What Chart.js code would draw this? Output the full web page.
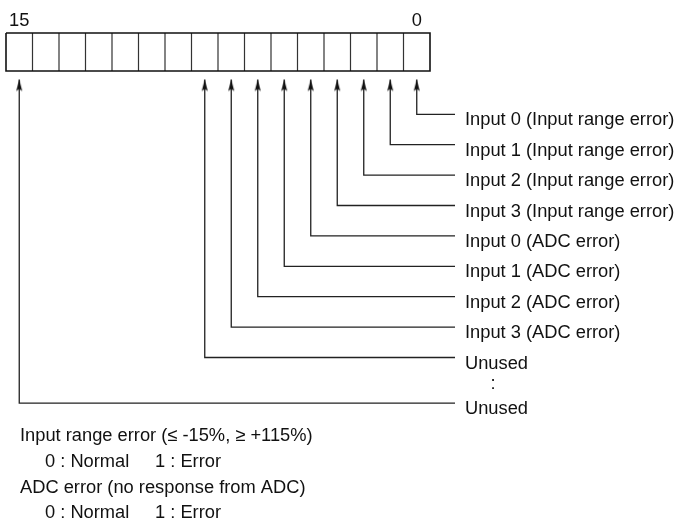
<!DOCTYPE html>
<html>
<head>
<meta charset="utf-8">
<script src="https://cdn.jsdelivr.net/npm/chart.js@4.4.1/dist/chart.umd.min.js"></script>
<style>
  html, body { margin: 0; padding: 0; background: #fff; }
  #wrap { width: 678px; height: 520px; position: relative; }
</style>
</head>
<body>
<div id="wrap"><canvas id="c"></canvas></div>
<script>
// ---------------- data ----------------
const bitCount = 16;
const headerBits = [15, 0];
const headerLabels = ['15', '0'];
const leaderBits = [0, 1, 2, 3, 4, 5, 6, 7, 8, 15];
const leaderRows = [0, 1, 2, 3, 4, 5, 6, 7, 8, 9.5];
const leaderLabels = [
  'Input 0 (Input range error)',
  'Input 1 (Input range error)',
  'Input 2 (Input range error)',
  'Input 3 (Input range error)',
  'Input 0 (ADC error)',
  'Input 1 (ADC error)',
  'Input 2 (ADC error)',
  'Input 3 (ADC error)',
  'Unused',
  'Unused'
];
const ellipsisLabel = ':';
const noteLines = [
  ['Input range error (\u2264 -15%, \u2265 +115%)'],
  ['0 : Normal', '1 : Error'],
  ['ADC error (no response from ADC)'],
  ['0 : Normal', '1 : Error']
];

// ---------------- layout (styling, not data) ----------------
const W = 678, H = 520;
const CELL_PX = 26.5, BOX_LEFT_PX = 6;
const ROW0_PX = 114.3, ROW_PX = 30.4;
const pxToCol = p => (p - BOX_LEFT_PX) / CELL_PX;
const pxToRow = p => (p - ROW0_PX) / ROW_PX;
const BOX_TOP = pxToRow(33), BOX_BOTTOM = pxToRow(71), ARROW_TIP = pxToRow(79.5);
const LINE_END = pxToCol(455), LABEL_X = pxToCol(465);
const HEADER_BASE = pxToRow(26);
const ELLIPSIS_X = pxToCol(493), ELLIPSIS_BASE = pxToRow(389);
const NOTE_X = [[pxToCol(20)], [pxToCol(45), pxToCol(155)], [pxToCol(20)], [pxToCol(45), pxToCol(155)]];
const NOTE_BASE = [441, 466.7, 493.3, 518.3].map(pxToRow);
const LABEL_BASE_OFFSET_PX = 11;
const FONT = '18.3px "Liberation Sans", Arial, Helvetica, sans-serif';
const INK = '#111';

const colCenter = b => (bitCount - 1 - b) + 0.5;

// arrowhead image (tip at image centre)
const arrow = document.createElement('canvas');
arrow.width = 8; arrow.height = 24;
(function () {
  const g = arrow.getContext('2d');
  g.fillStyle = INK;
  g.beginPath();
  g.moveTo(4, 12);
  g.lineTo(7, 23.5);
  g.lineTo(4, 21.5);
  g.lineTo(1, 23.5);
  g.closePath();
  g.fill();
})();

// ---------------- datasets ----------------
const boxOutline = [
  { x: 0, y: BOX_TOP }, { x: bitCount, y: BOX_TOP },
  { x: bitCount, y: BOX_BOTTOM }, { x: 0, y: BOX_BOTTOM }, { x: 0, y: BOX_TOP }
];
const dividers = [];
for (let i = 1; i < bitCount; i++) {
  dividers.push({ x: i, y: BOX_TOP }, { x: i, y: BOX_BOTTOM }, { x: i, y: null });
}

const datasets = [
  { data: boxOutline, borderColor: INK, borderWidth: 1.6, pointRadius: 0 },
  { data: dividers, borderColor: '#333', borderWidth: 1.2, pointRadius: 0, spanGaps: false }
];
leaderBits.forEach((b, i) => {
  const cx = colCenter(b);
  datasets.push({
    data: [
      { x: cx, y: ARROW_TIP },
      { x: cx, y: leaderRows[i] },
      { x: LINE_END, y: leaderRows[i] }
    ],
    borderColor: '#222',
    borderWidth: 1.3,
    pointStyle: ctx => ctx.dataIndex === 0 ? arrow : 'circle',
    pointRadius: ctx => ctx.dataIndex === 0 ? 5 : 0,
    pointBorderWidth: 0
  });
});

// ---------------- text plugin ----------------
const textPlugin = {
  id: 'diagramText',
  afterDatasetsDraw(chart) {
    const { ctx, scales: { x, y } } = chart;
    ctx.save();
    ctx.font = FONT;
    ctx.fillStyle = INK;
    ctx.textBaseline = 'alphabetic';
    ctx.textAlign = 'center';
    headerBits.forEach((b, i) => {
      ctx.fillText(headerLabels[i], x.getPixelForValue(colCenter(b)), y.getPixelForValue(HEADER_BASE));
    });
    ctx.textAlign = 'left';
    leaderLabels.forEach((t, i) => {
      ctx.fillText(t, x.getPixelForValue(LABEL_X), y.getPixelForValue(leaderRows[i]) + LABEL_BASE_OFFSET_PX);
    });
    ctx.textAlign = 'center';
    ctx.fillText(ellipsisLabel, x.getPixelForValue(ELLIPSIS_X), y.getPixelForValue(ELLIPSIS_BASE));
    ctx.textAlign = 'left';
    noteLines.forEach((parts, r) => {
      parts.forEach((t, k) => {
        ctx.fillText(t, x.getPixelForValue(NOTE_X[r][k]), y.getPixelForValue(NOTE_BASE[r]));
      });
    });
    ctx.restore();
  }
};

new Chart(document.getElementById('c'), {
  type: 'line',
  data: { datasets },
  options: {
    responsive: true,
    maintainAspectRatio: false,
    animation: false,
    layout: { padding: 0, autoPadding: false },
    plugins: { legend: { display: false }, tooltip: { enabled: false } },
    events: [],
    scales: {
      x: { type: 'linear', display: false, min: pxToCol(0), max: pxToCol(W) },
      y: { type: 'linear', display: false, reverse: true, min: pxToRow(0), max: pxToRow(H) }
    }
  },
  plugins: [textPlugin]
});
</script>
</body>
</html>
